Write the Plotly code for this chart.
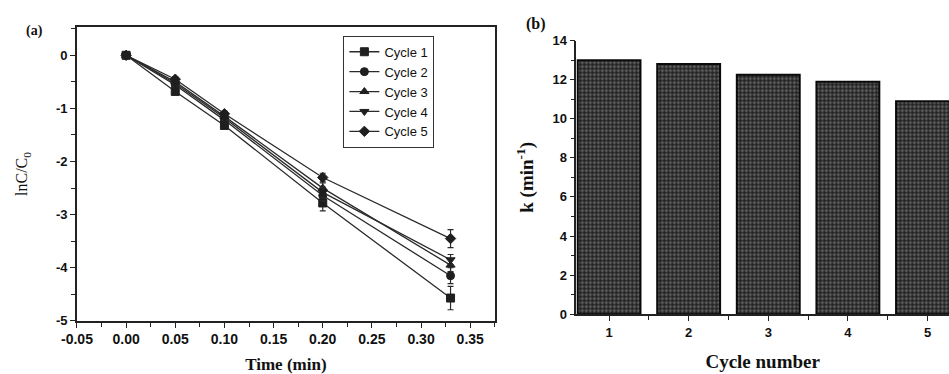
import plotly.graph_objects as go

# Panel (a): ln(C/C0) versus time for five reuse cycles
time_min = [0.0, 0.05, 0.10, 0.20, 0.33]
cycle_names = ["Cycle 1", "Cycle 2", "Cycle 3", "Cycle 4", "Cycle 5"]
ln_c1 = [0.0, -0.68, -1.32, -2.78, -4.57]
ln_c2 = [0.0, -0.56, -1.22, -2.64, -4.15]
ln_c3 = [0.0, -0.50, -1.15, -2.50, -3.95]
ln_c4 = [0.0, -0.53, -1.18, -2.58, -3.85]
ln_c5 = [0.0, -0.45, -1.10, -2.30, -3.45]
err_c1 = [0.03, 0.05, 0.06, 0.15, 0.22]
err_c2 = [0.03, 0.05, 0.05, 0.10, 0.15]
err_c3 = [0.03, 0.05, 0.05, 0.10, 0.12]
err_c4 = [0.03, 0.05, 0.05, 0.10, 0.10]
err_c5 = [0.03, 0.05, 0.05, 0.08, 0.17]

# Panel (b): rate constant per cycle
cycle_number = [1, 2, 3, 4, 5]
k_values = [13.0, 12.8, 12.25, 11.9, 10.9]

# Tick labels (plain hyphen for negatives)
time_ticks = [-0.05, 0.0, 0.05, 0.10, 0.15, 0.20, 0.25, 0.30, 0.35]
time_labels = ["-0.05", "0.00", "0.05", "0.10", "0.15", "0.20", "0.25", "0.30", "0.35"]
ln_ticks = [0, -1, -2, -3, -4, -5]
ln_labels = ["0", "-1", "-2", "-3", "-4", "-5"]

series = [ln_c1, ln_c2, ln_c3, ln_c4, ln_c5]
errors = [err_c1, err_c2, err_c3, err_c4, err_c5]
symbols = ["square", "circle", "triangle-up", "triangle-down", "diamond"]

W, H = 949, 374


def px_x(p):
    return p / W


def px_y(p):
    return 1 - p / H


fig = go.Figure()

for name, ys, es, sym in zip(cycle_names, series, errors, symbols):
    fig.add_trace(go.Scatter(
        x=time_min, y=ys, name=name, mode="lines+markers",
        line=dict(color="#2b2b2b", width=1.3),
        marker=dict(symbol=sym, size=8, color="#1f1f1f",
                    line=dict(color="#1f1f1f", width=1)),
        error_y=dict(type="data", array=es, visible=True,
                     color="#2b2b2b", thickness=1.2, width=3),
        xaxis="x", yaxis="y",
    ))

fig.add_trace(go.Bar(
    x=cycle_number, y=k_values, width=0.79, showlegend=False,
    marker=dict(
        color="#222222",
        line=dict(color="#0a0a0a", width=2),
        pattern=dict(shape=".", size=4, solidity=0.45,
                     fgcolor="#a8a8a8", bgcolor="#202020",
                     fillmode="overlay"),
    ),
    xaxis="x2", yaxis="y2",
))

tick_font = dict(family="Liberation Sans", size=14, color="#111111", weight="bold")
title_font = dict(family="Liberation Serif", size=17, color="#111111")
axis_common = dict(
    ticks="outside", ticklen=5, tickwidth=1.3, tickcolor="#222",
    showline=True, linecolor="#222", linewidth=1.5,
    showgrid=False, zeroline=False,
)


def minor(step, start):
    return dict(tickmode="linear", tick0=start, dtick=step,
                ticks="outside", ticklen=4, tickwidth=1, tickcolor="#222")


fig.update_layout(
    width=W, height=H,
    margin=dict(l=0, r=0, t=0, b=0),
    paper_bgcolor="white", plot_bgcolor="white",
    showlegend=True,
    legend=dict(
        x=px_x(333), y=px_y(30), xanchor="left", yanchor="top",
        bgcolor="white", bordercolor="#333333", borderwidth=1,
        font=dict(family="Liberation Sans", size=13, color="#111111"),
        tracegroupgap=0, itemwidth=30,
    ),
    xaxis=dict(
        axis_common,
        domain=[px_x(62), px_x(487)], range=[-0.05, 0.375],
        tickmode="array", tickvals=time_ticks, ticktext=time_labels,
        minor=minor(0.025, 0),
        mirror=True,
        tickfont=tick_font,
        title=dict(text="<b>Time (min)</b>", font=title_font, standoff=12),
        anchor="y",
    ),
    yaxis=dict(
        axis_common,
        domain=[px_y(327), px_y(21)], range=[-5, 0.53],
        tickmode="array", tickvals=ln_ticks, ticktext=ln_labels,
        minor=minor(0.5, 0),
        mirror=True,
        tickfont=dict(tick_font, size=13),
        title=dict(text="lnC/C<sub>0</sub>", font=dict(title_font, size=16), standoff=24),
        anchor="x",
    ),
    xaxis2=dict(
        axis_common,
        domain=[px_x(570), 1.0], range=[0.59, 5.27],
        tickmode="linear", tick0=1, dtick=1,
        minor=minor(1, 0.5),
        mirror=False,
        tickfont=dict(tick_font, size=13),
        title=dict(text="<b>Cycle number</b>", font=dict(title_font, size=19), standoff=16),
        anchor="y2",
    ),
    yaxis2=dict(
        axis_common,
        domain=[px_y(320), px_y(35)], range=[0, 14],
        tickmode="linear", tick0=0, dtick=2,
        minor=minor(1, 0),
        mirror=False,
        tickfont=dict(tick_font, size=13),
        title=dict(text="<b>k (min<sup>-1</sup>)</b>", font=dict(title_font, size=19), standoff=14),
        anchor="x2",
    ),
    annotations=[
        dict(text="<b>(a)</b>", x=px_x(8), y=px_y(25), xref="paper", yref="paper",
             xanchor="left", yanchor="middle", showarrow=False,
             font=dict(family="Liberation Serif", size=14, color="#111111")),
        dict(text="<b>(b)</b>", x=px_x(517), y=px_y(18), xref="paper", yref="paper",
             xanchor="left", yanchor="middle", showarrow=False,
             font=dict(family="Liberation Serif", size=16, color="#111111")),
    ],
)

fig.write_html("out.html")
